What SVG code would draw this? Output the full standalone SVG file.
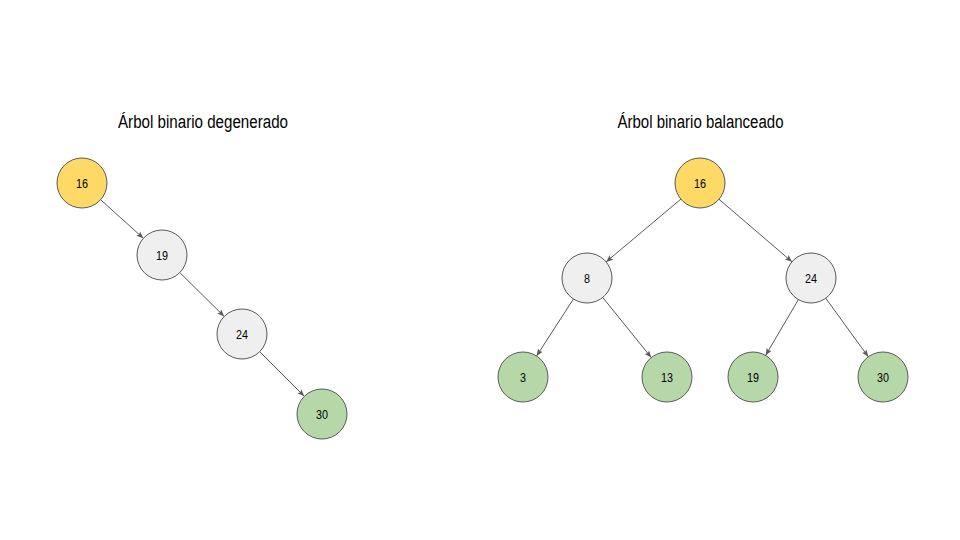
<svg xmlns="http://www.w3.org/2000/svg" width="960" height="540" viewBox="0 0 960 540">
<defs>
<style>
.n{stroke:#595959;stroke-width:1}
.y{fill:#FFD966}.g{fill:#EFEFEF}.v{fill:#B6D7A8}
.t{font-family:"Liberation Sans",Arial,sans-serif;fill:#000;text-anchor:middle}
.lbl{font-size:13px}
.ttl{font-size:18px}
.e{stroke:#595959;stroke-width:1;fill:none;marker-end:url(#a)}
</style>
<marker id="a" viewBox="0 0 10 10" refX="10" refY="5" markerWidth="7" markerHeight="7" orient="auto" markerUnits="userSpaceOnUse">
<path d="M0,1 L10,5 L0,9 L2,5 Z" fill="#595959"/>
</marker>
</defs>
<rect width="960" height="540" fill="#fff"/>
<text class="t ttl" x="203" y="128" textLength="170" lengthAdjust="spacingAndGlyphs">Árbol binario degenerado</text>
<text class="t ttl" x="700.5" y="128" textLength="166" lengthAdjust="spacingAndGlyphs">Árbol binario balanceado</text>
<g id="connectors">
<line class="e" x1="100.6" y1="199.7" x2="143.4" y2="238.3"/>
<line class="e" x1="179.8" y1="272.6" x2="224.2" y2="316.4"/>
<line class="e" x1="259.7" y1="351.7" x2="304.3" y2="396.3"/>
<line class="e" x1="680.9" y1="199.1" x2="606.1" y2="261.9"/>
<line class="e" x1="719" y1="199.3" x2="792" y2="261.8"/>
<line class="e" x1="573.4" y1="299" x2="536.6" y2="356"/>
<line class="e" x1="602.7" y1="297.4" x2="651.3" y2="357.6"/>
<line class="e" x1="798.4" y1="299.6" x2="765.6" y2="355.4"/>
<line class="e" x1="825.7" y1="298.2" x2="868.3" y2="356.8"/>
</g>
<g id="l16"><circle class="n y" cx="82" cy="183" r="25"/><text class="t lbl" x="82" y="187.5" textLength="12" lengthAdjust="spacingAndGlyphs">16</text></g>
<g id="l19"><circle class="n g" cx="162" cy="255" r="25"/><text class="t lbl" x="162" y="259.5" textLength="12" lengthAdjust="spacingAndGlyphs">19</text></g>
<g id="l24"><circle class="n g" cx="242" cy="334" r="25"/><text class="t lbl" x="242" y="338.5" textLength="12" lengthAdjust="spacingAndGlyphs">24</text></g>
<g id="l30"><circle class="n v" cx="322" cy="414" r="25"/><text class="t lbl" x="322" y="418.5" textLength="12" lengthAdjust="spacingAndGlyphs">30</text></g>
<g id="r16"><circle class="n y" cx="700" cy="183" r="25"/><text class="t lbl" x="700" y="187.5" textLength="12" lengthAdjust="spacingAndGlyphs">16</text></g>
<g id="r8"><circle class="n g" cx="587" cy="278" r="25"/><text class="t lbl" x="587" y="282.5" textLength="6" lengthAdjust="spacingAndGlyphs">8</text></g>
<g id="r24"><circle class="n g" cx="811" cy="278" r="25"/><text class="t lbl" x="811" y="282.5" textLength="12" lengthAdjust="spacingAndGlyphs">24</text></g>
<g id="r3"><circle class="n v" cx="523" cy="377" r="25"/><text class="t lbl" x="523" y="381.5" textLength="6" lengthAdjust="spacingAndGlyphs">3</text></g>
<g id="r13"><circle class="n v" cx="667" cy="377" r="25"/><text class="t lbl" x="667" y="381.5" textLength="12" lengthAdjust="spacingAndGlyphs">13</text></g>
<g id="r19"><circle class="n v" cx="753" cy="377" r="25"/><text class="t lbl" x="753" y="381.5" textLength="12" lengthAdjust="spacingAndGlyphs">19</text></g>
<g id="r30"><circle class="n v" cx="883" cy="377" r="25"/><text class="t lbl" x="883" y="381.5" textLength="12" lengthAdjust="spacingAndGlyphs">30</text></g>
</svg>
